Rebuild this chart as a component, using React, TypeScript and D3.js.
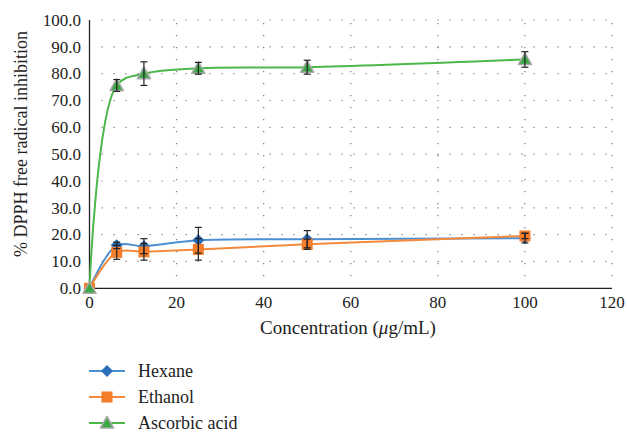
import React, { useEffect, useRef } from 'react';
import * as d3 from 'd3';

type Pt = { x: number; y: number; err: number };

const concentrations = [0, 6.25, 12.5, 25, 50, 100];
const hexaneValues = [0, 16.0, 15.7, 17.9, 18.3, 18.7];
const hexaneErrors = [0, 1.2, 2.8, 4.8, 3.2, 1.8];
const ethanolValues = [0, 13.4, 13.6, 14.5, 16.4, 19.5];
const ethanolErrors = [0, 2.6, 3.1, 4.0, 1.9, 1.0];
const ascorbicValues = [0, 75.6, 80.0, 82.0, 82.4, 85.3];
const ascorbicErrors = [0, 2.2, 4.4, 2.2, 2.6, 2.9];

const yTicks = [0, 10, 20, 30, 40, 50, 60, 70, 80, 90, 100];
const xTicks = [0, 20, 40, 60, 80, 100, 120];

const seriesList = [
  { name: 'Hexane', values: hexaneValues, errors: hexaneErrors, line: '#4d8fd3', fill: '#2a6db8', shape: 'diamond' },
  { name: 'Ethanol', values: ethanolValues, errors: ethanolErrors, line: '#f58a3c', fill: '#f37d2a', shape: 'square' },
  { name: 'Ascorbic acid', values: ascorbicValues, errors: ascorbicErrors, line: '#4cb84a', fill: '#3aa843', shape: 'triangle' },
];

const FONT = "'Liberation Serif', 'Times New Roman', serif";

const App: React.FC = () => {
  const svgRef = useRef<SVGSVGElement | null>(null);

  useEffect(() => {
    const svgEl = svgRef.current;
    if (!svgEl) return;
    const width = 627;
    const height = 432;
    const left = 89.5;
    const right = 612;
    const top = 20;
    const bottom = 288.3;

    const x = d3.scaleLinear().domain([0, 120]).range([left, right]);
    const y = d3.scaleLinear().domain([0, 100]).range([bottom, top]);

    const svg = d3.select(svgEl).attr('width', width).attr('height', height);
    svg.selectAll('*').remove();

    svg.append('rect').attr('width', width).attr('height', height).attr('fill', '#fff');

    // dotted gridlines
    const grid = svg.append('g');
    grid.selectAll('line.h')
      .data(yTicks.filter((t) => t > 0))
      .join('line')
      .attr('x1', left + 12).attr('x2', right)
      .attr('y1', (d) => y(d)).attr('y2', (d) => y(d))
      .attr('stroke', '#777').attr('stroke-width', 1.2)
      .attr('stroke-dasharray', '1.2,10.8');
    grid.selectAll('line.v')
      .data(xTicks.filter((t) => t > 0))
      .join('line')
      .attr('x1', (d) => x(d)).attr('x2', (d) => x(d))
      .attr('y1', bottom - 12).attr('y2', top)
      .attr('stroke', '#777').attr('stroke-width', 1.2)
      .attr('stroke-dasharray', '1.2,10.8');

    // axes
    svg.append('line')
      .attr('x1', left).attr('x2', left).attr('y1', top).attr('y2', bottom)
      .attr('stroke', '#222').attr('stroke-width', 1.3);
    svg.append('line')
      .attr('x1', left).attr('x2', right).attr('y1', bottom).attr('y2', bottom)
      .attr('stroke', '#222').attr('stroke-width', 1.3);

    svg.append('g').selectAll('text')
      .data(yTicks)
      .join('text')
      .attr('x', 81).attr('y', (d) => y(d)).attr('dy', '0.34em')
      .attr('text-anchor', 'end')
      .style('font-family', FONT).style('font-size', '17px').attr('fill', '#222')
      .text((d) => d3.format('.1f')(d));

    svg.append('g').selectAll('text')
      .data(xTicks)
      .join('text')
      .attr('x', (d) => x(d)).attr('y', 308)
      .attr('text-anchor', 'middle')
      .style('font-family', FONT).style('font-size', '17px').attr('fill', '#222')
      .text((d) => d);

    const xl = svg.append('text')
      .attr('x', 348).attr('y', 334)
      .attr('text-anchor', 'middle')
      .style('font-family', FONT).style('font-size', '19px').attr('fill', '#222');
    xl.append('tspan').text('Concentration (');
    xl.append('tspan').style('font-style', 'italic').text('μ');
    xl.append('tspan').text('g/mL)');

    svg.append('text')
      .attr('transform', 'translate(27,144) rotate(-90)')
      .attr('text-anchor', 'middle')
      .style('font-family', FONT).style('font-size', '18px').attr('fill', '#222')
      .text('% DPPH free radical inhibition');

    const line = d3.line<Pt>()
      .x((d) => x(d.x)).y((d) => y(d.y))
      .curve(d3.curveCatmullRom.alpha(0.5));

    const drawMarker = (g: d3.Selection<SVGGElement, unknown, null, undefined>, shape: string, fill: string, cx: number, cy: number) => {
      if (shape === 'diamond') {
        g.append('path')
          .attr('d', `M${cx},${cy - 6}L${cx + 6},${cy}L${cx},${cy + 6}L${cx - 6},${cy}Z`)
          .attr('fill', fill);
      } else if (shape === 'square') {
        g.append('rect')
          .attr('x', cx - 5.5).attr('y', cy - 5.5).attr('width', 11).attr('height', 11)
          .attr('fill', fill);
      } else {
        g.append('path')
          .attr('d', `M${cx},${cy - 6.5}L${cx + 6.5},${cy + 5}L${cx - 6.5},${cy + 5}Z`)
          .attr('fill', fill).attr('stroke', '#a8a8a8').attr('stroke-width', 1.6)
          .attr('stroke-linejoin', 'round');
      }
    };

    const data = seriesList.map((s) => ({
      ...s,
      pts: concentrations.map((c, i) => ({ x: c, y: s.values[i], err: s.errors[i] })),
    }));

    const lines = svg.append('g');
    data.forEach((s) => {
      lines.append('path')
        .attr('d', line(s.pts) as string)
        .attr('fill', 'none').attr('stroke', s.line).attr('stroke-width', 2);
    });

    const markers = svg.append('g');
    data.forEach((s) => {
      s.pts.forEach((p) => drawMarker(markers, s.shape, s.fill, x(p.x), y(p.y)));
    });

    const errs = svg.append('g').attr('stroke', '#222').attr('stroke-width', 1.2);
    data.forEach((s) => {
      s.pts.filter((p) => p.err > 0).forEach((p) => {
        const cx = x(p.x);
        const y1 = y(p.y + p.err);
        const y2 = y(p.y - p.err);
        errs.append('line').attr('x1', cx).attr('x2', cx).attr('y1', y1).attr('y2', y2);
        errs.append('line').attr('x1', cx - 3.5).attr('x2', cx + 3.5).attr('y1', y1).attr('y2', y1);
        errs.append('line').attr('x1', cx - 3.5).attr('x2', cx + 3.5).attr('y1', y2).attr('y2', y2);
      });
    });

    // legend
    const legend = svg.append('g');
    data.forEach((s, i) => {
      const ly = 371 + i * 26;
      legend.append('line')
        .attr('x1', 89).attr('x2', 125).attr('y1', ly).attr('y2', ly)
        .attr('stroke', s.line).attr('stroke-width', 2);
      drawMarker(legend, s.shape, s.fill, 107, ly);
      legend.append('text')
        .attr('x', 138).attr('y', ly).attr('dy', '0.33em')
        .style('font-family', FONT).style('font-size', '18px').attr('fill', '#222')
        .text(s.name);
    });
  }, []);

  return (
    <svg
      ref={svgRef}
      style={{ position: 'absolute', left: 0, top: 0, display: 'block' }}
      role="img"
      aria-label="DPPH inhibition chart"
    />
  );
};

export default App;
